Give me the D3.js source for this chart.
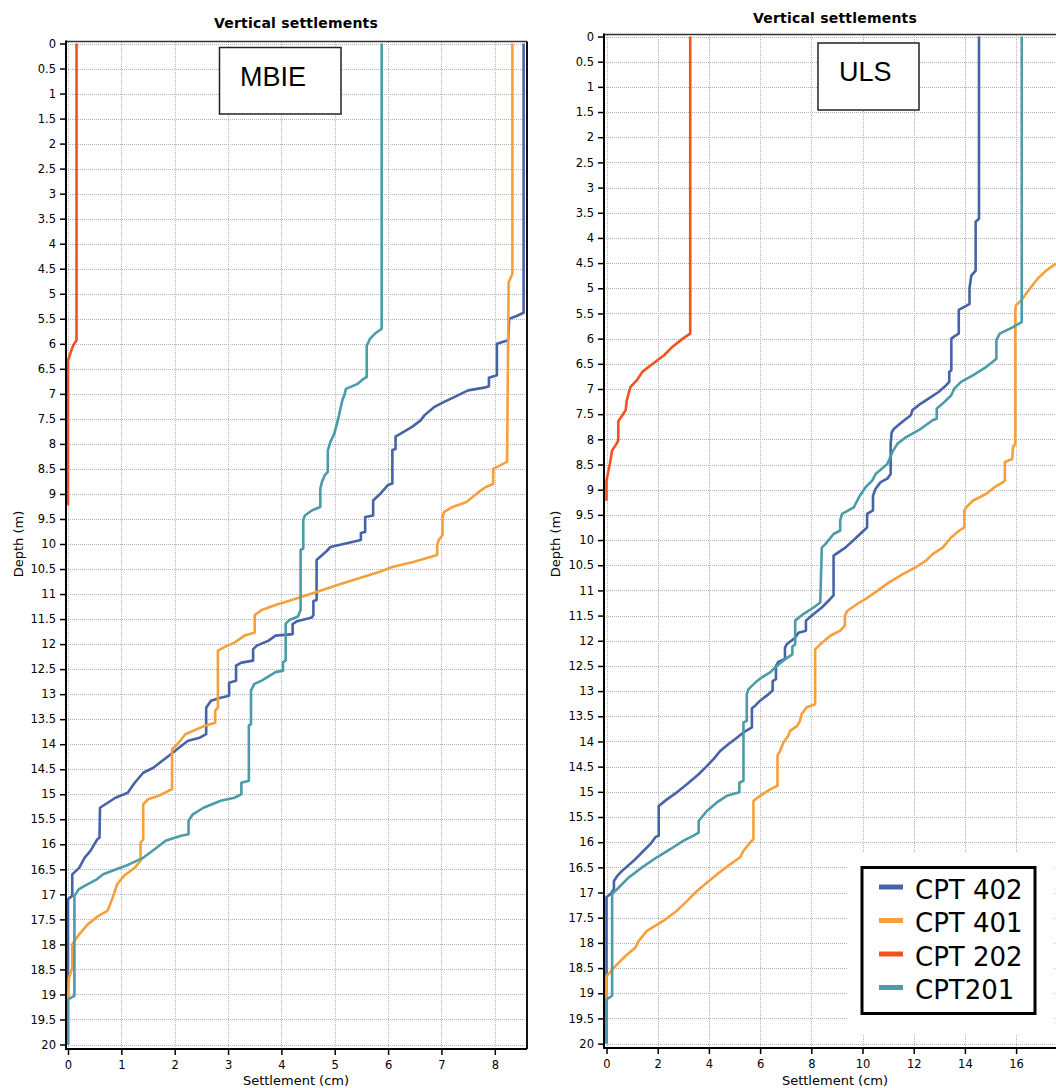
<!DOCTYPE html>
<html>
<head>
<meta charset="utf-8">
<script src="https://cdn.jsdelivr.net/npm/d3@7"></script>
<style>
  html, body { margin: 0; padding: 0; background: #fff; }
  svg { display: block; }
</style>
</head>
<body>
<svg id="chart" width="1056" height="1088"></svg>
<script>
// ---------------- DATA ----------------
// each series: [depth (m), settlement (cm)]
const seriesNames = ["CPT 402", "CPT 401", "CPT 202", "CPT201"];
const seriesColors = ["#4763a8", "#f6a03b", "#f4511f", "#4b9ba8"];

const depthTicks = d3.range(0, 20.001, 0.5);
const mbieSettleTicks = [0, 1, 2, 3, 4, 5, 6, 7, 8];
const ulsSettleTicks = [0, 2, 4, 6, 8, 10, 12, 14, 16];

const mbie402 = [[0,8.54],[5.38,8.54],[5.45,8.4],[5.5,8.27],[5.93,8.25],[6.0,8.04],[6.63,8.04],[6.68,7.89],[6.85,7.89],[6.87,7.83],[6.93,7.5],[7.06,7.25],[7.16,7.05],[7.26,6.87],[7.43,6.68],[7.53,6.61],[7.66,6.45],[7.83,6.18],[7.85,6.14],[8.1,6.14],[8.12,6.08],[8.79,6.08],[8.82,6.0],[8.99,5.86],[9.13,5.72],[9.43,5.72],[9.46,5.57],[9.76,5.57],[9.78,5.49],[9.92,5.49],[10.06,4.92],[10.14,4.85],[10.32,4.66],[11.12,4.66],[11.14,4.6],[11.42,4.6],[11.47,4.57],[11.55,4.28],[11.6,4.21],[11.8,4.21],[11.83,3.89],[11.93,3.76],[12.03,3.54],[12.1,3.47],[12.33,3.47],[12.37,3.25],[12.43,3.15],[12.73,3.15],[12.77,3.02],[13.03,3.02],[13.07,2.86],[13.13,2.68],[13.27,2.59],[13.8,2.59],[13.87,2.47],[13.93,2.25],[14.07,2.08],[14.23,1.89],[14.47,1.6],[14.57,1.41],[14.77,1.25],[14.97,1.12],[15.07,0.89],[15.27,0.6],[15.87,0.59],[15.9,0.55],[16.13,0.42],[16.27,0.31],[16.47,0.21],[16.6,0.08],[17.03,0.08],[17.1,0],[20,0]];
const mbie401 = [[0,8.33],[4.6,8.33],[4.7,8.29],[4.77,8.26],[8.36,8.23],[8.5,7.97],[8.8,7.97],[8.86,7.83],[8.96,7.7],[9.16,7.47],[9.26,7.21],[9.36,7.05],[9.46,7.02],[9.82,7.02],[9.92,6.95],[10.02,6.92],[10.22,6.92],[10.36,6.47],[10.46,6.08],[10.56,5.83],[10.69,5.44],[10.82,5.05],[10.96,4.66],[11.09,4.28],[11.22,3.89],[11.32,3.63],[11.42,3.5],[11.77,3.5],[11.83,3.31],[11.97,3.12],[12.05,2.95],[12.13,2.81],[13.27,2.81],[13.33,2.76],[13.57,2.76],[13.63,2.57],[13.8,2.2],[14.0,2.05],[14.1,1.95],[14.9,1.95],[14.93,1.89],[15.03,1.7],[15.1,1.5],[15.2,1.41],[15.9,1.41],[15.97,1.36],[16.33,1.36],[16.47,1.25],[16.63,1.05],[16.8,0.92],[17.0,0.86],[17.2,0.79],[17.33,0.74],[17.43,0.57],[17.6,0.37],[17.8,0.21],[17.93,0.12],[18.0,0.08],[18.47,0.08],[18.57,0.05],[18.67,0.02],[19.07,0]];
const mbie202 = [[0,0.16],[5.93,0.16],[6.03,0.1],[6.17,0.05],[6.3,0.01],[6.35,0],[9.23,0]];
const mbie201 = [[0,5.88],[5.7,5.88],[5.8,5.75],[5.9,5.66],[6.0,5.62],[6.03,5.6],[6.66,5.6],[6.7,5.54],[6.8,5.43],[6.9,5.21],[7.03,5.18],[7.1,5.15],[7.23,5.12],[7.43,5.08],[7.6,5.04],[7.8,4.99],[7.96,4.92],[8.13,4.87],[8.56,4.87],[8.63,4.81],[8.76,4.76],[8.89,4.73],[9.26,4.73],[9.33,4.57],[9.43,4.44],[9.53,4.41],[10.09,4.41],[10.12,4.36],[11.32,4.36],[11.45,4.31],[11.52,4.15],[11.59,4.08],[12.33,4.08],[12.36,4.03],[12.53,4.03],[12.56,3.89],[12.73,3.63],[12.8,3.49],[12.93,3.43],[13.6,3.43],[13.63,3.39],[14.73,3.39],[14.77,3.25],[15.0,3.25],[15.07,3.12],[15.13,2.86],[15.27,2.54],[15.4,2.34],[15.53,2.26],[15.8,2.26],[15.83,2.12],[15.93,1.83],[16.07,1.66],[16.27,1.41],[16.43,1.08],[16.6,0.66],[16.7,0.54],[16.83,0.31],[16.9,0.2],[17.03,0.12],[19.03,0.12],[19.1,0],[20,0]];

const uls402 = [[0,14.55],[3.62,14.55],[3.68,14.42],[4.65,14.42],[4.75,14.25],[5.0,14.18],[5.31,14.18],[5.35,14.05],[5.43,13.76],[5.9,13.76],[5.95,13.6],[6.0,13.47],[6.63,13.47],[6.66,13.39],[6.86,13.39],[6.93,13.26],[7.06,12.97],[7.16,12.67],[7.29,12.28],[7.42,11.95],[7.52,11.89],[7.62,11.63],[7.79,11.23],[7.86,11.14],[8.09,11.1],[8.69,11.1],[8.78,10.97],[8.85,10.71],[8.98,10.51],[9.12,10.41],[9.41,10.41],[9.48,10.18],[9.75,10.18],[9.81,10.05],[9.98,9.7],[10.15,9.33],[10.31,8.87],[11.1,8.87],[11.17,8.74],[11.34,8.41],[11.5,8.02],[11.6,7.79],[11.8,7.79],[11.84,7.5],[11.94,7.37],[12.07,7.04],[12.14,6.97],[12.36,6.97],[12.42,6.71],[12.5,6.62],[12.76,6.62],[12.8,6.49],[12.99,6.49],[13.09,6.26],[13.19,6.0],[13.29,5.81],[13.34,5.68],[13.72,5.68],[13.82,5.35],[13.95,5.03],[14.05,4.77],[14.19,4.44],[14.35,4.18],[14.52,3.86],[14.65,3.6],[14.85,3.14],[15.01,2.75],[15.15,2.36],[15.28,2.04],[15.87,2.04],[15.9,1.91],[16.04,1.71],[16.17,1.45],[16.37,1.06],[16.57,0.61],[16.67,0.42],[16.77,0.29],[16.93,0.29],[17.03,0.16],[17.09,0],[20,0]];
const uls401 = [[0,18.3],[4.4,18.3],[4.52,17.53],[4.65,17.17],[4.81,16.84],[4.98,16.58],[5.11,16.39],[5.25,16.19],[5.33,16.0],[5.41,15.97],[8.09,15.97],[8.15,15.88],[8.39,15.85],[8.45,15.56],[8.82,15.56],[8.85,15.49],[8.95,15.16],[9.08,14.84],[9.22,14.31],[9.35,14.05],[9.41,13.98],[9.75,13.98],[9.81,13.79],[9.95,13.46],[10.15,13.13],[10.28,12.74],[10.41,12.48],[10.54,12.08],[10.68,11.56],[10.84,11.04],[11.01,10.58],[11.17,10.12],[11.27,9.79],[11.41,9.4],[11.51,9.31],[11.7,9.31],[11.8,9.13],[11.9,8.74],[12.07,8.35],[12.17,8.15],[13.26,8.15],[13.32,7.82],[13.46,7.62],[13.59,7.56],[13.69,7.45],[13.79,7.17],[13.89,7.1],[14.02,6.91],[14.19,6.78],[14.28,6.68],[14.88,6.68],[14.95,6.39],[15.08,6.0],[15.18,5.74],[15.94,5.74],[16.01,5.61],[16.17,5.35],[16.3,5.22],[16.44,4.83],[16.64,4.31],[16.83,3.86],[17.0,3.47],[17.17,3.14],[17.36,2.75],[17.56,2.23],[17.76,1.58],[17.96,1.26],[18.09,1.13],[18.26,0.74],[18.46,0.35],[18.59,0.13],[18.66,0],[19.12,0]];
const uls202 = [[0,3.27],[5.9,3.27],[6.0,2.98],[6.16,2.58],[6.33,2.25],[6.53,1.73],[6.66,1.4],[6.83,1.18],[6.96,0.94],[7.06,0.88],[7.23,0.79],[7.42,0.75],[7.52,0.62],[7.64,0.46],[8.02,0.46],[8.09,0.39],[8.22,0.22],[8.49,0.13],[8.69,0.05],[8.82,0],[9.22,0]];
const uls201 = [[0,16.22],[5.67,16.22],[5.77,15.88],[5.9,15.36],[6.03,15.23],[6.4,15.23],[6.43,15.16],[6.56,14.84],[6.73,14.31],[6.86,13.85],[6.99,13.59],[7.13,13.46],[7.29,13.13],[7.39,12.9],[7.59,12.9],[7.62,12.74],[7.79,12.28],[7.96,11.69],[8.09,11.36],[8.25,11.17],[8.49,10.97],[8.69,10.51],[8.82,10.38],[8.95,10.12],[9.15,9.86],[9.35,9.66],[9.48,9.2],[9.61,9.13],[9.81,9.13],[9.88,8.87],[10.08,8.55],[10.15,8.41],[11.24,8.35],[11.34,8.09],[11.47,7.69],[11.6,7.37],[12.07,7.37],[12.12,7.26],[12.27,7.26],[12.37,6.97],[12.5,6.65],[12.63,6.39],[12.73,6.06],[12.83,5.81],[12.96,5.55],[13.06,5.48],[13.59,5.48],[13.62,5.35],[14.78,5.35],[14.82,5.19],[15.01,5.19],[15.08,4.7],[15.21,4.31],[15.38,3.92],[15.58,3.6],[15.81,3.6],[15.87,3.4],[15.97,3.01],[16.14,2.49],[16.3,1.97],[16.5,1.39],[16.7,0.87],[16.9,0.48],[17.03,0.22],[19.05,0.22],[19.12,0],[20,0]];

// ---------------- DRAW ----------------
const svg = d3.select("#chart");
const FONT = "'DejaVu Sans', Verdana, sans-serif";

function drawPanel(cfg) {
  const g = svg.append("g");
  const x = d3.scaleLinear().domain(cfg.xDomain).range(cfg.xRange);
  const y = d3.scaleLinear().domain([0, 20]).range(cfg.yRange);
  const b = cfg.border;

  g.append("rect").attr("x", b.l).attr("y", b.t).attr("width", b.r - b.l).attr("height", b.b - b.t).attr("fill", "#fff");

  // grid
  const grid = g.append("g").attr("stroke", "#b4b4b4").attr("stroke-width", 1)
    .attr("stroke-dasharray", "1,1").attr("shape-rendering", "crispEdges");
  grid.selectAll("line.h").data(depthTicks).enter().append("line")
    .attr("x1", b.l).attr("x2", b.r)
    .attr("y1", d => Math.round(y(d)) + 0.5).attr("y2", d => Math.round(y(d)) + 0.5);
  grid.selectAll("line.v").data(cfg.xTicks).enter().append("line")
    .attr("y1", b.t).attr("y2", b.b)
    .attr("x1", d => Math.round(x(d)) + 0.5).attr("x2", d => Math.round(x(d)) + 0.5);

  const clipId = "clip" + cfg.id;
  svg.append("clipPath").attr("id", clipId).append("rect")
    .attr("x", b.l).attr("y", b.t - 2).attr("width", b.r - b.l).attr("height", b.b - b.t + 2);

  const line = d3.line().x(d => x(d[1])).y(d => y(d[0]));
  const lg = g.append("g").attr("clip-path", `url(#${clipId})`);
  cfg.series.forEach((s, i) => {
    lg.append("path").datum(s).attr("d", line)
      .attr("fill", "none").attr("stroke", seriesColors[i])
      .attr("stroke-width", 2.6).attr("stroke-linejoin", "round");
  });

  g.append("line").attr("x1", b.l).attr("x2", b.r).attr("y1", b.t).attr("y2", b.t)
    .attr("stroke", "#333").attr("stroke-width", 1.5);
  if (cfg.rightBorder) {
    g.append("line").attr("x1", b.r).attr("x2", b.r).attr("y1", b.t).attr("y2", b.b)
      .attr("stroke", "#111").attr("stroke-width", 2);
  }

  // y axis
  const yAxis = d3.axisLeft(y).tickValues(depthTicks).tickSize(6).tickPadding(4)
    .tickFormat(d => d3.format("")(d));
  const ya = g.append("g").attr("transform", `translate(${b.l},0)`).call(yAxis);
  ya.select(".domain").remove();
  ya.selectAll("line").attr("stroke", "#000").attr("stroke-width", 1.5);
  ya.selectAll("text").attr("font-family", FONT).attr("font-size", 11.5).attr("fill", "#000");
  g.append("line").attr("x1", b.l).attr("x2", b.l).attr("y1", b.t - 1).attr("y2", b.b + 1)
    .attr("stroke", "#000").attr("stroke-width", 2);

  // x axis
  const xAxis = d3.axisBottom(x).tickValues(cfg.xTicks).tickSize(6).tickPadding(6);
  const xa = g.append("g").attr("transform", `translate(0,${b.b})`).call(xAxis);
  xa.select(".domain").remove();
  xa.selectAll("line").attr("stroke", "#000").attr("stroke-width", 1.5);
  xa.selectAll("text").attr("font-family", FONT).attr("font-size", 11.5).attr("fill", "#000");
  g.append("line").attr("x1", b.l - 1).attr("x2", Math.min(b.r, 1056)).attr("y1", b.b).attr("y2", b.b)
    .attr("stroke", "#000").attr("stroke-width", 2);

  // titles
  g.append("text").attr("x", cfg.titleX).attr("y", cfg.titleY).attr("text-anchor", "middle")
    .attr("font-family", FONT).attr("font-size", 14).attr("font-weight", "bold")
    .attr("letter-spacing", 0.2).text("Vertical settlements");
  g.append("text").attr("x", cfg.titleX).attr("y", 1085).attr("text-anchor", "middle")
    .attr("font-family", FONT).attr("font-size", 13).text("Settlement (cm)");
  g.append("text").attr("transform", `translate(${cfg.yTitleX},544) rotate(-90)`).attr("text-anchor", "middle")
    .attr("font-family", FONT).attr("font-size", 13).text("Depth (m)");

  const lb = cfg.labelBox;
  g.append("rect").attr("x", lb.x).attr("y", lb.y).attr("width", lb.w).attr("height", lb.h)
    .attr("fill", "#fff").attr("stroke", "#222").attr("stroke-width", 1.5);
  g.append("text").attr("x", lb.tx).attr("y", lb.ty)
    .attr("font-family", "'Liberation Sans', Arial, sans-serif").attr("font-size", 27).text(lb.text);

  return { g, x, y };
}

drawPanel({
  id: "mbie",
  xDomain: [0, 8.6], xRange: [68, 526.8],
  yRange: [43.5, 1044.5],
  border: { l: 66, t: 41.5, r: 527, b: 1049 },
  rightBorder: true,
  xTicks: mbieSettleTicks,
  series: [mbie402, mbie401, mbie202, mbie201],
  titleX: 296, titleY: 28, yTitleX: 23,
  labelBox: { x: 219.5, y: 47.5, w: 121.5, h: 66.5, tx: 240, ty: 85.5, text: "MBIE" }
});

drawPanel({
  id: "uls",
  xDomain: [0, 18], xRange: [606.5, 606.5 + 18 * 25.6],
  yRange: [36.5, 1043.6],
  border: { l: 604, t: 34.5, r: 1067, b: 1048 },
  rightBorder: false,
  xTicks: ulsSettleTicks,
  series: [uls402, uls401, uls202, uls201],
  titleX: 835, titleY: 23, yTitleX: 560,
  labelBox: { x: 818, y: 43, w: 101, h: 67, tx: 839, ty: 81, text: "ULS" }
});

// legend
const lgd = svg.append("g");
lgd.append("rect").attr("x", 848).attr("y", 853).attr("width", 205).attr("height", 182).attr("fill", "#fff");
lgd.append("rect").attr("x", 862).attr("y", 867.5).attr("width", 173).attr("height", 146)
  .attr("fill", "#fff").attr("stroke", "#000").attr("stroke-width", 3);
seriesNames.forEach((n, i) => {
  const cy = 887 + i * 33.5;
  lgd.append("line").attr("x1", 879).attr("x2", 903).attr("y1", cy).attr("y2", cy)
    .attr("stroke", seriesColors[i]).attr("stroke-width", 5);
  lgd.append("text").attr("x", 915).attr("y", cy + 11.5).attr("font-family", FONT)
    .attr("font-size", 26).attr("fill", "#000").text(n);
});
</script>
</body>
</html>
